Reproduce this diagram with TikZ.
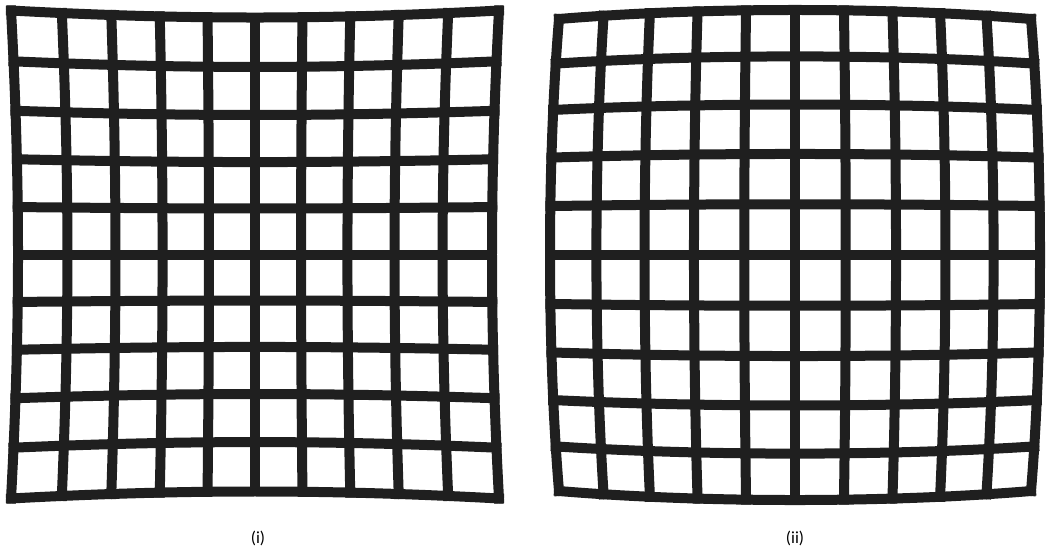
\documentclass[tikz,border=0pt]{standalone}
\usepackage{fontspec}
\setmainfont{Carlito}
\begin{document}
\begin{tikzpicture}[x=1pt,y=-1pt,
  gridline/.style={line width=10pt,draw=black!88,line cap=rect,line join=miter},
  lbl/.style={font=\fontsize{17}{20}\selectfont,text=black}]
\useasboundingbox (0,0) rectangle (1048,554);
% (i) pincushion
\def\cx{255}\def\cy{254.5}\def\aa{230}\def\kk{0.0304}
\foreach \i in {0,...,10}{
  \pgfmathsetmacro\u{-1+\i/5}
  \draw[gridline] plot[domain=-1:1,samples=31,smooth]
    ({\cx+\aa*\u*(1+\kk*(\u*\u+\x*\x))},{\cy+\aa*\x*(1+\kk*(\u*\u+\x*\x))});
  \draw[gridline] plot[domain=-1:1,samples=31,smooth]
    ({\cx+\aa*\x*(1+\kk*(\u*\u+\x*\x))},{\cy+\aa*\u*(1+\kk*(\u*\u+\x*\x))});
}
% (ii) barrel
\def\cxb{795}\def\cyb{255}\def\ab{254}\def\kb{-0.0354}
\foreach \i in {0,...,10}{
  \pgfmathsetmacro\u{-1+\i/5}
  \draw[gridline] plot[domain=-1:1,samples=31,smooth]
    ({\cxb+\ab*\u*(1+\kb*(\u*\u+\x*\x))},{\cyb+\ab*\x*(1+\kb*(\u*\u+\x*\x))});
  \draw[gridline] plot[domain=-1:1,samples=31,smooth]
    ({\cxb+\ab*\x*(1+\kb*(\u*\u+\x*\x))},{\cyb+\ab*\u*(1+\kb*(\u*\u+\x*\x))});
}
\node[lbl] (labeli) at (258,538) {(i)};
\node[lbl] (labelii) at (795,538) {(ii)};
\end{tikzpicture}
\end{document}
